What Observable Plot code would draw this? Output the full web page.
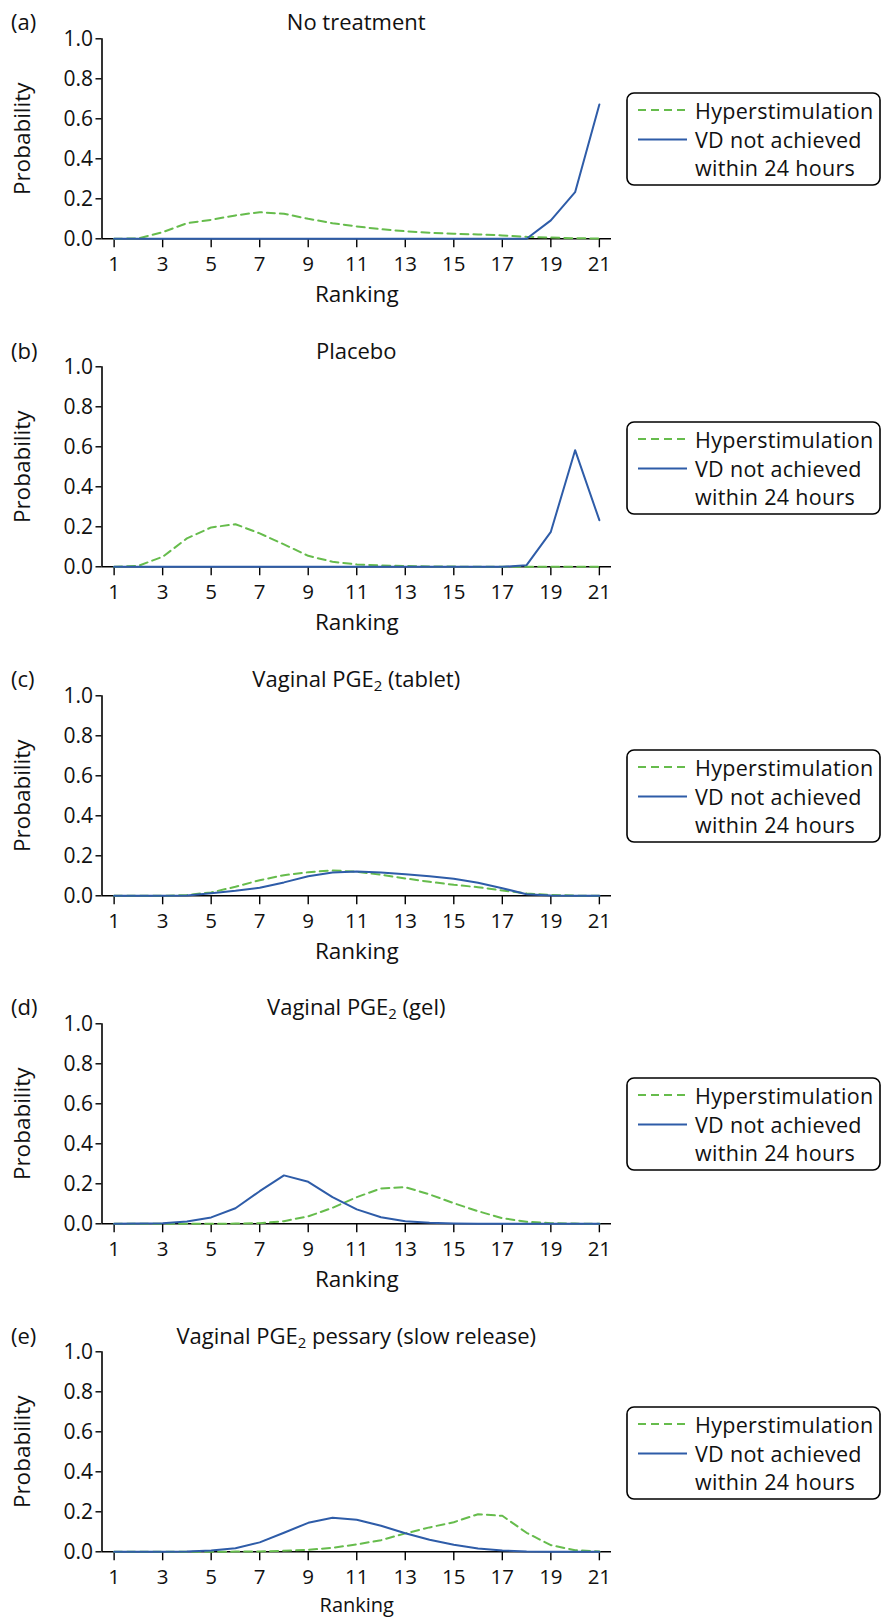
<!DOCTYPE html>
<html><head><meta charset="utf-8">
<script src="https://cdn.jsdelivr.net/npm/d3@7"></script>
<script src="https://cdn.jsdelivr.net/npm/@observablehq/plot@0.6"></script>
<style>
body{margin:0;background:#fff;font-family:"Open Sans",sans-serif;color:#111;}
#root{position:relative;width:883px;height:1620px;overflow:hidden;}
.panel{position:absolute;left:0;width:883px;height:329px;}
.panel svg.plot{position:absolute;left:0;top:0;}
.ptitle{position:absolute;font-size:22px;white-space:nowrap;transform:translate(-50%,-50%);line-height:1;}
.ptitle sub{font-size:0.68em;vertical-align:-0.3em;line-height:0;}
.plabel{position:absolute;left:11px;font-size:22px;transform:translateY(-50%);line-height:1;}
.legend{position:absolute;left:625px;}
</style></head><body><div id="root"></div>
<script>
// ---- data ----
const ranks = [1,2,3,4,5,6,7,8,9,10,11,12,13,14,15,16,17,18,19,20,21];
const xTicks = [1,3,5,7,9,11,13,15,17,19,21];
const yTicks = [0,0.2,0.4,0.6,0.8,1.0];
const panelLetters = ["(a)","(b)","(c)","(d)","(e)"];
const panelTitles = ["No treatment","Placebo","Vaginal PGE₂ (tablet)","Vaginal PGE₂ (gel)","Vaginal PGE₂ pessary (slow release)"];
const seriesNames = ["Hyperstimulation","VD not achieved within 24 hours"];
const legendLines = ["Hyperstimulation","VD not achieved","within 24 hours"];

const hyperA = [0,0.002,0.033,0.078,0.095,0.117,0.133,0.125,0.100,0.078,0.062,0.048,0.038,0.030,0.025,0.022,0.017,0.010,0.006,0.003,0.001];
const vdA    = [0,0,0,0,0,0,0,0,0,0,0,0,0,0,0,0,0,0,0.092,0.233,0.672];
const hyperB = [0,0.005,0.050,0.142,0.197,0.213,0.167,0.112,0.055,0.025,0.012,0.007,0.004,0.002,0.001,0,0,0,0,0,0];
const vdB    = [0,0,0,0,0,0,0,0,0,0,0,0,0,0,0,0,0,0.008,0.175,0.583,0.233];
const hyperC = [0,0,0,0.004,0.017,0.045,0.078,0.103,0.118,0.127,0.120,0.105,0.087,0.070,0.055,0.043,0.027,0.012,0.004,0.001,0];
const vdC    = [0,0,0,0.002,0.013,0.025,0.040,0.067,0.098,0.117,0.122,0.117,0.108,0.098,0.085,0.065,0.038,0.008,0.001,0,0];
const hyperD = [0,0,0,0,0,0.001,0.003,0.013,0.037,0.080,0.133,0.177,0.183,0.147,0.103,0.063,0.028,0.010,0.003,0.001,0];
const vdD    = [0,0.001,0.003,0.012,0.032,0.078,0.163,0.242,0.210,0.133,0.072,0.033,0.013,0.005,0.002,0,0,0,0,0,0];
const hyperE = [0,0,0,0,0,0.001,0.002,0.005,0.010,0.020,0.037,0.058,0.092,0.122,0.148,0.188,0.180,0.095,0.033,0.008,0.001];
const vdE    = [0,0,0,0.002,0.007,0.018,0.047,0.095,0.145,0.170,0.160,0.130,0.093,0.060,0.035,0.017,0.007,0.002,0,0,0];

const hyperSeries = [hyperA,hyperB,hyperC,hyperD,hyperE];
const vdSeries = [vdA,vdB,vdC,vdD,vdE];

// ---- styles ----
const GREEN = "#66bc4c";
const BLUE = "#2e5ca8";
const DASH = "8,5";
const FONT = "Open Sans, sans-serif";
const PANEL_STEP = 328.35;
const PANEL_H = 329;
const M_TOP = 38.3, PLOT_H = 200, M_LEFT = 101.5, X_END = 611;

const root = document.getElementById("root");

panelTitles.forEach((title, i) => {
  const panel = document.createElement("div");
  panel.className = "panel";
  panel.style.top = (i * PANEL_STEP) + "px";
  root.appendChild(panel);

  const rows = ranks.map((r, k) => ({rank: r, p: hyperSeries[i][k], s: seriesNames[0]}));
  const rowsVD = ranks.map((r, k) => ({rank: r, p: vdSeries[i][k], s: seriesNames[1]}));
  const last = i === panelTitles.length - 1;

  const chart = Plot.plot({
    width: 883,
    height: PANEL_H,
    marginTop: M_TOP,
    marginBottom: PANEL_H - M_TOP - PLOT_H,
    marginLeft: M_LEFT,
    marginRight: 883 - X_END,
    style: {fontFamily: FONT, fontSize: "21px", color: "#000", background: "transparent", overflow: "visible"},
    x: {domain: [0.5, 21.5]},
    y: {domain: [0, 1]},
    marks: [
      Plot.axisX({ticks: xTicks, tickFormat: d => String(d), tickSize: 9, tickPadding: 9, label: null, fontSize: 20.5, fill: "#111", strokeWidth: 1.4}),
      Plot.axisY({ticks: yTicks, tickFormat: d => d.toFixed(1), tickSize: 6, tickPadding: 3, label: null, fontSize: 21, fill: "#111", strokeWidth: 1.4}),
      Plot.ruleY([0], {stroke: "#000", strokeWidth: 1.6}),
      Plot.ruleX([0.5], {y1: 0, y2: 1, stroke: "#000", strokeWidth: 1.6}),
      Plot.line(rows, {x: "rank", y: "p", stroke: GREEN, strokeWidth: 2, strokeDasharray: DASH}),
      Plot.line(rowsVD, {x: "rank", y: "p", stroke: BLUE, strokeWidth: 2}),
      Plot.text(["Ranking"], {text: d => d, frameAnchor: "bottom", lineAnchor: "middle", textAnchor: "middle", dy: last ? 53.5 : 56, fontSize: last ? 20 : 22.5, fill: "#111"}),
      Plot.text(["Probability"], {text: d => d, frameAnchor: "left", lineAnchor: "middle", textAnchor: "middle", dx: -(M_LEFT - 22), rotate: -90, fontSize: 22.5, fill: "#111"})
    ]
  });
  chart.classList.add("plot");
  panel.appendChild(chart);

  // title
  const t = document.createElement("div");
  t.className = "ptitle";
  t.style.left = ((M_LEFT + X_END) / 2) + "px";
  t.style.top = (M_TOP - 17) + "px";
  t.innerHTML = title.replace("₂", "<sub>2</sub>");
  panel.appendChild(t);

  const l = document.createElement("div");
  l.className = "plabel";
  l.style.top = (M_TOP - 17) + "px";
  l.textContent = panelLetters[i];
  panel.appendChild(l);

  // legend
  const ns = "http://www.w3.org/2000/svg";
  const lg = document.createElementNS(ns, "svg");
  lg.setAttribute("class", "legend");
  lg.setAttribute("width", 258);
  lg.setAttribute("height", 97);
  lg.style.top = (M_TOP + 53) + "px";
  const ts = `font-family="${FONT}" font-size="21.5" letter-spacing="0.3" fill="#111" dominant-baseline="central"`;
  lg.innerHTML =
    `<rect x="2" y="2" width="253" height="92" rx="7" ry="7" fill="#fff" stroke="#000" stroke-width="1.6"/>` +
    `<line x1="13" x2="62" y1="19" y2="19" stroke="${GREEN}" stroke-width="2" stroke-dasharray="${DASH}"/>` +
    `<line x1="13" x2="62" y1="48.5" y2="48.5" stroke="${BLUE}" stroke-width="2"/>` +
    `<text x="70" y="19.5" ${ts}>${legendLines[0]}</text>` +
    `<text x="70" y="48.5" ${ts}>${legendLines[1]}</text>` +
    `<text x="70" y="76.5" ${ts}>${legendLines[2]}</text>`;
  panel.appendChild(lg);
});
</script>
</body></html>
